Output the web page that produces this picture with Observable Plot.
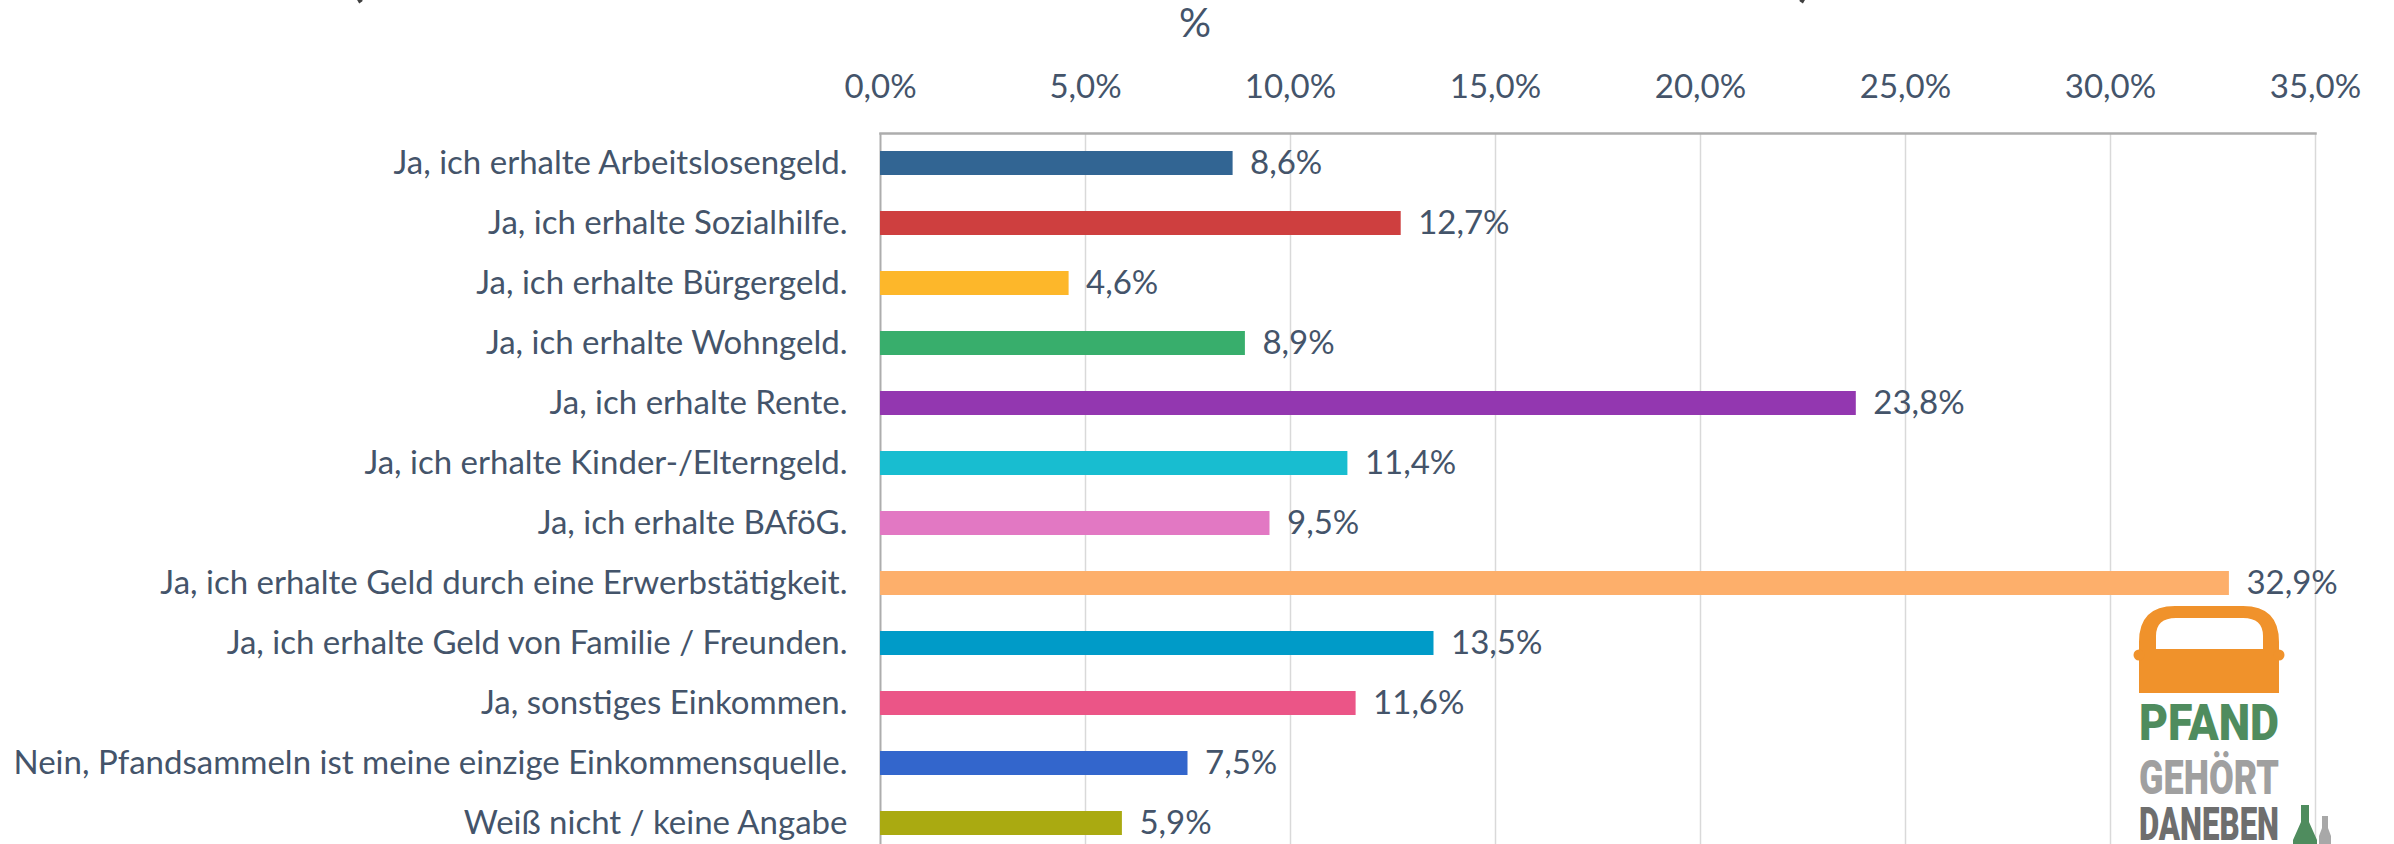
<!DOCTYPE html>
<html>
<head>
<meta charset="utf-8">
<script src="https://cdn.jsdelivr.net/npm/d3@7"></script>
<script src="https://cdn.jsdelivr.net/npm/@observablehq/plot@0.6"></script>
<style>
  html, body { margin: 0; padding: 0; background: #fff; }
  #wrap { position: relative; width: 2394px; height: 844px; overflow: hidden; background: #fff; }
  #chart { position: absolute; left: 0; top: 0; }
  #overlay { position: absolute; left: 0; top: 0; pointer-events: none; }
  #logo { position: absolute; left: 2120px; top: 590px; }
</style>
</head>
<body>
<div id="wrap">
  <div id="chart"></div>
  <svg id="overlay" width="2394" height="140" xmlns="http://www.w3.org/2000/svg">
    <text x="356" y="-6" font-family="Lato" font-size="64" fill="#404040" text-anchor="middle">(</text>
    <text x="1806" y="-6" font-family="Lato" font-size="64" fill="#404040" text-anchor="middle">)</text>
    <text x="1195" y="37" font-family="Lato" font-size="40" fill="#44546A" text-anchor="middle">%</text>
  </svg>
  <svg id="logo" width="274" height="254" viewBox="0 0 274 254" xmlns="http://www.w3.org/2000/svg">
    <path fill="#F0922B" fill-rule="evenodd"
      d="M19,103 L19,52 Q19,16 55,16 L123,16 Q159,16 159,52 L159,103 Z
         M36,59 L36,46 Q36,28 56,28 L123,28 Q143,28 143,46 L143,59 Z"/>
    <circle cx="19" cy="65" r="5.5" fill="#F0922B"/>
    <circle cx="159" cy="65" r="5.5" fill="#F0922B"/>
    <text x="19" y="150" font-family="Roboto" font-weight="900" font-size="50" fill="#4F8C5E" textLength="140" lengthAdjust="spacingAndGlyphs">PFAND</text>
    <text x="19" y="204" font-family="Roboto" font-weight="900" font-size="49" fill="#A0A0A0" textLength="140" lengthAdjust="spacingAndGlyphs">GEHÖRT</text>
    <text x="19" y="250" font-family="Roboto" font-weight="900" font-size="47" fill="#6E6E6E" textLength="140" lengthAdjust="spacingAndGlyphs">DANEBEN</text>
    <path fill="#4F8C5E" d="M181,215 L189,215 L189,232 L197,250 L197,254 L173,254 L173,250 L181,232 Z"/>
    <path fill="#A8A8A8" d="M202,226 L208,226 L208,238 L211,246 L211,254 L199,254 L199,246 L202,238 Z"/>
  </svg>
</div>
<script>
// ---- data ----
const categories = [
  "Ja, ich erhalte Arbeitslosengeld.",
  "Ja, ich erhalte Sozialhilfe.",
  "Ja, ich erhalte Bürgergeld.",
  "Ja, ich erhalte Wohngeld.",
  "Ja, ich erhalte Rente.",
  "Ja, ich erhalte Kinder-/Elterngeld.",
  "Ja, ich erhalte BAföG.",
  "Ja, ich erhalte Geld durch eine Erwerbstätigkeit.",
  "Ja, ich erhalte Geld von Familie / Freunden.",
  "Ja, sonstiges Einkommen.",
  "Nein, Pfandsammeln ist meine einzige Einkommensquelle.",
  "Weiß nicht / keine Angabe"
];
const values = [8.6, 12.7, 4.6, 8.9, 23.8, 11.4, 9.5, 32.9, 13.5, 11.6, 7.5, 5.9];
const barColors = [
  "#326593", "#CE3F3F", "#FDB72A", "#38AE6C", "#9337B0", "#18BDD0",
  "#E278C3", "#FDAF6B", "#009BC8", "#EB5587", "#3366CC", "#AAAA11"
];
const xTicks = [0, 5, 10, 15, 20, 25, 30, 35];

const data = categories.map((c, i) => ({category: c, value: values[i]}));
const fmt = v => v.toFixed(1).replace(".", ",") + "%";

const textColor = "#44546A";

const chart = Plot.plot({
  width: 2394,
  height: 853,
  marginLeft: 880,
  marginRight: 79,
  marginTop: 133,
  marginBottom: 0,
  style: {fontFamily: "Lato", fontSize: "33px", color: textColor, background: "white"},
  x: {domain: [0, 35], ticks: xTicks, tickFormat: fmt, axis: "top", label: null, tickSize: 0, tickPadding: 36},
  y: {domain: categories, paddingInner: 0.6, paddingOuter: 0.3, label: null, tickSize: 0, tickPadding: 33},
  color: {domain: categories, range: barColors},
  marks: [
    Plot.gridX(xTicks.slice(1), {stroke: "#D9D9D9", strokeOpacity: 1, strokeWidth: 1.5}),
    Plot.frame({anchor: "top", stroke: "#ADADAD", strokeWidth: 2.5}),
    Plot.ruleX([0], {stroke: "#ADADAD", strokeWidth: 2}),
    Plot.barX(data, {x: "value", y: "category", fill: "category"}),
    Plot.text(data, {x: "value", y: "category", text: d => fmt(d.value), textAnchor: "start", dx: 17, fill: textColor, fontSize: 33})
  ]
});
document.getElementById("chart").appendChild(chart);
</script>
</body>
</html>
